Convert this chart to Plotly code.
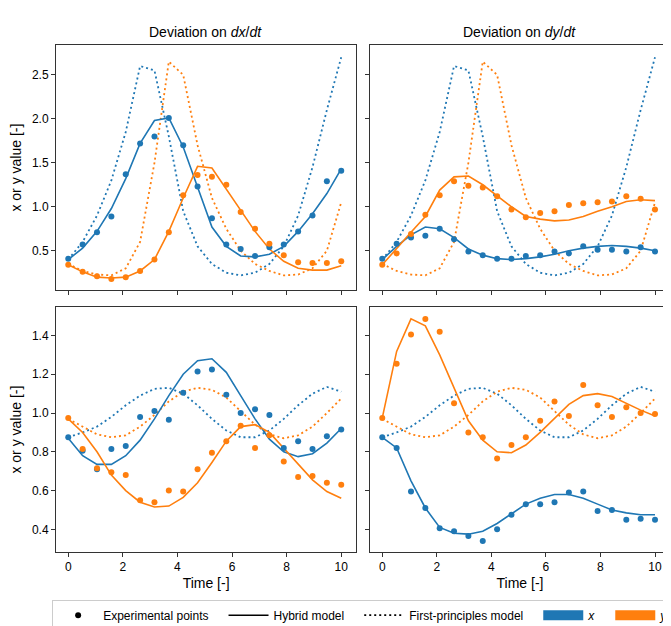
import plotly.graph_objects as go

t = [i * 10 / 19 for i in range(20)]

# first-principles model (same in both columns of a row)
fp_x_top = [0.40, 0.60, 0.90, 1.30, 1.85, 2.60, 2.55, 1.80, 0.95, 0.55, 0.35, 0.25, 0.22, 0.25, 0.35, 0.55, 0.90, 1.45, 2.10, 2.70]
fp_y_top = [0.35, 0.27, 0.23, 0.22, 0.30, 0.60, 1.50, 2.65, 2.50, 1.70, 1.10, 0.75, 0.50, 0.35, 0.27, 0.22, 0.23, 0.30, 0.50, 1.05]
fp_x_bot = [0.875, 0.90, 0.93, 0.98, 1.04, 1.09, 1.125, 1.13, 1.10, 1.04, 0.97, 0.91, 0.875, 0.875, 0.91, 0.97, 1.04, 1.10, 1.135, 1.11]
fp_y_bot = [0.97, 0.93, 0.89, 0.875, 0.885, 0.93, 0.99, 1.06, 1.11, 1.13, 1.12, 1.08, 1.01, 0.94, 0.89, 0.87, 0.885, 0.93, 1.00, 1.075]

# top-left: deviation on dx/dt
hyb_x_tl = [0.40, 0.53, 0.72, 0.98, 1.32, 1.72, 1.98, 2.01, 1.68, 1.22, 0.77, 0.55, 0.44, 0.43, 0.46, 0.55, 0.72, 0.92, 1.15, 1.43]
exp_x_tl = [0.41, 0.57, 0.71, 0.89, 1.37, 1.72, 1.80, 2.01, 1.70, 1.23, 0.87, 0.57, 0.52, 0.44, 0.54, 0.57, 0.72, 0.90, 1.29, 1.41]
hyb_y_tl = [0.34, 0.26, 0.20, 0.19, 0.20, 0.27, 0.40, 0.72, 1.10, 1.46, 1.44, 1.20, 0.95, 0.72, 0.52, 0.38, 0.30, 0.28, 0.28, 0.33]
exp_y_tl = [0.34, 0.26, 0.21, 0.18, 0.20, 0.27, 0.40, 0.71, 1.13, 1.36, 1.34, 1.25, 0.94, 0.75, 0.58, 0.45, 0.37, 0.36, 0.36, 0.38]

# top-right: deviation on dy/dt
hyb_x_tr = [0.40, 0.55, 0.68, 0.77, 0.75, 0.65, 0.52, 0.45, 0.41, 0.40, 0.41, 0.43, 0.46, 0.50, 0.53, 0.55, 0.56, 0.55, 0.53, 0.50]
exp_x_tr = [0.41, 0.58, 0.65, 0.67, 0.75, 0.63, 0.49, 0.45, 0.41, 0.41, 0.44, 0.45, 0.49, 0.47, 0.55, 0.51, 0.51, 0.49, 0.54, 0.49]
hyb_y_tr = [0.34, 0.53, 0.71, 0.89, 1.19, 1.34, 1.35, 1.25, 1.12, 1.00, 0.89, 0.86, 0.84, 0.85, 0.89, 0.95, 1.00, 1.06, 1.08, 1.07]
exp_y_tr = [0.34, 0.47, 0.69, 0.91, 1.13, 1.29, 1.24, 1.22, 1.12, 0.97, 0.88, 0.93, 0.95, 1.02, 1.04, 1.05, 1.06, 1.12, 1.09, 0.97]

# bottom-left
hyb_x_bl = [0.87, 0.78, 0.735, 0.735, 0.78, 0.86, 0.97, 1.09, 1.20, 1.27, 1.28, 1.21, 1.09, 0.97, 0.865, 0.80, 0.775, 0.79, 0.845, 0.92]
exp_x_bl = [0.875, 0.805, 0.71, 0.815, 0.83, 0.98, 1.01, 0.965, 1.105, 1.215, 1.225, 1.095, 1.00, 1.02, 0.99, 0.82, 0.855, 0.815, 0.88, 0.915]
hyb_y_bl = [0.97, 0.90, 0.80, 0.68, 0.60, 0.54, 0.515, 0.52, 0.565, 0.64, 0.745, 0.855, 0.93, 0.94, 0.90, 0.82, 0.74, 0.655, 0.595, 0.56]
exp_y_bl = [0.975, 0.815, 0.715, 0.695, 0.68, 0.55, 0.54, 0.60, 0.595, 0.71, 0.795, 0.855, 0.935, 0.82, 0.885, 0.75, 0.67, 0.675, 0.64, 0.63]

# bottom-right
hyb_x_br = [0.875, 0.82, 0.65, 0.51, 0.41, 0.38, 0.375, 0.39, 0.43, 0.48, 0.53, 0.56, 0.58, 0.58, 0.56, 0.53, 0.50, 0.485, 0.475, 0.475]
exp_x_br = [0.875, 0.82, 0.595, 0.51, 0.405, 0.39, 0.365, 0.34, 0.40, 0.475, 0.53, 0.53, 0.54, 0.59, 0.595, 0.495, 0.50, 0.45, 0.455, 0.45]
hyb_y_br = [0.975, 1.318, 1.486, 1.45, 1.30, 1.13, 0.96, 0.86, 0.80, 0.795, 0.835, 0.90, 0.975, 1.045, 1.09, 1.10, 1.085, 1.05, 1.015, 0.985]
exp_y_br = [0.975, 1.255, 1.405, 1.485, 1.42, 1.05, 0.90, 0.875, 0.765, 0.835, 0.875, 0.96, 1.06, 0.985, 1.145, 1.04, 0.98, 1.03, 1.00, 0.995]

BLUE = '#1f77b4'
ORANGE = '#ff7f0e'
DOT = '2px,3px'

panels = [
    ('x', 'y', fp_x_top, fp_y_top, hyb_x_tl, exp_x_tl, hyb_y_tl, exp_y_tl),
    ('x2', 'y2', fp_x_top, fp_y_top, hyb_x_tr, exp_x_tr, hyb_y_tr, exp_y_tr),
    ('x3', 'y3', fp_x_bot, fp_y_bot, hyb_x_bl, exp_x_bl, hyb_y_bl, exp_y_bl),
    ('x4', 'y4', fp_x_bot, fp_y_bot, hyb_x_br, exp_x_br, hyb_y_br, exp_y_br),
]

fig = go.Figure()
for xa, ya, fpx, fpy, hx, ex, hy, ey in panels:
    for vals, col in ((fpx, BLUE), (fpy, ORANGE)):
        fig.add_trace(go.Scatter(x=t, y=vals, mode='lines', xaxis=xa, yaxis=ya, showlegend=False,
                                 line=dict(color=col, width=1.8, dash=DOT)))
    for vals, col in ((hx, BLUE), (hy, ORANGE)):
        fig.add_trace(go.Scatter(x=t, y=vals, mode='lines', xaxis=xa, yaxis=ya, showlegend=False,
                                 line=dict(color=col, width=1.6)))
    for vals, col in ((ex, BLUE), (ey, ORANGE)):
        fig.add_trace(go.Scatter(x=t, y=vals, mode='markers', xaxis=xa, yaxis=ya, showlegend=False,
                                 marker=dict(color=col, size=6)))

# legend-only entries
fig.add_trace(go.Scatter(x=[None], y=[None], mode='markers', name='Experimental points   ',
                         marker=dict(color='black', size=6)))
fig.add_trace(go.Scatter(x=[None], y=[None], mode='lines', name='Hybrid model   ',
                         line=dict(color='black', width=1.6)))
fig.add_trace(go.Scatter(x=[None], y=[None], mode='lines', name='First-principles model   ',
                         line=dict(color='black', width=1.8, dash=DOT)))
fig.add_trace(go.Scatter(x=[None], y=[None], mode='lines', name='<i>x</i>   ',
                         line=dict(color=BLUE, width=11)))
fig.add_trace(go.Scatter(x=[None], y=[None], mode='lines', name='<i>y</i>',
                         line=dict(color=ORANGE, width=11)))

ax = dict(showline=True, mirror=True, linecolor='#333', linewidth=1, ticks='outside',
          ticklen=4, tickcolor='#333', showgrid=False, zeroline=False)
xr = [-0.45, 10.55]
fig.update_layout(
    width=671, height=626, margin=dict(l=0, r=0, t=0, b=0),
    plot_bgcolor='white', paper_bgcolor='white',
    font=dict(family='Liberation Sans, Arial, sans-serif', size=12, color='black'),
    xaxis=dict(ax, domain=[0.0715, 0.519], range=xr, anchor='y', tickvals=[0, 2, 4, 6, 8, 10], showticklabels=False),
    xaxis2=dict(ax, domain=[0.5395, 0.9866], range=xr, anchor='y2', tickvals=[0, 2, 4, 6, 8, 10], showticklabels=False),
    xaxis3=dict(ax, domain=[0.0715, 0.519], range=xr, anchor='y3', dtick=2, title=dict(text='Time [-]', standoff=4)),
    xaxis4=dict(ax, domain=[0.5395, 0.9866], range=xr, anchor='y4', dtick=2, title=dict(text='Time [-]', standoff=4)),
    yaxis=dict(ax, domain=[0.549, 0.941], range=[0.05, 2.84], anchor='x', dtick=0.5, tickformat='.1f',
               title=dict(text='x or y value [-]', standoff=6)),
    yaxis2=dict(ax, domain=[0.549, 0.941], range=[0.05, 2.84], anchor='x2', dtick=0.5, showticklabels=False),
    yaxis3=dict(ax, domain=[0.131, 0.522], range=[0.283, 1.546], anchor='x3', dtick=0.2, tickformat='.1f',
                title=dict(text='x or y value [-]', standoff=6)),
    yaxis4=dict(ax, domain=[0.131, 0.522], range=[0.283, 1.546], anchor='x4', dtick=0.2, showticklabels=False),
    legend=dict(orientation='h', x=0.53, xanchor='center', y=0.03, yanchor='middle', itemwidth=40,
                bordercolor='#ccc', borderwidth=1, font=dict(size=12)),
    annotations=[
        dict(text='Deviation on <i>dx</i>/<i>dt</i>', x=0.295, y=0.945, xref='paper', yref='paper',
             xanchor='center', yanchor='bottom', showarrow=False, font=dict(size=14)),
        dict(text='Deviation on <i>dy</i>/<i>dt</i>', x=0.763, y=0.945, xref='paper', yref='paper',
             xanchor='center', yanchor='bottom', showarrow=False, font=dict(size=14)),
    ],
)

fig.write_html("out.html")
